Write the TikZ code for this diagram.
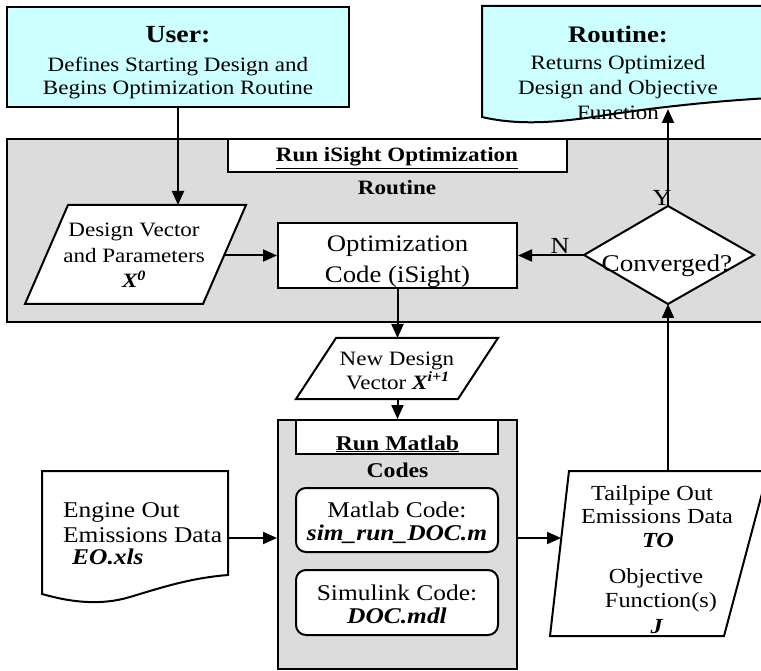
\documentclass[tikz,border=0pt]{standalone}
\usepackage{fontspec}
\setmainfont[FakeStretch=1.13]{Liberation Serif}
\usetikzlibrary{arrows.meta,fit,shapes.geometric}
\definecolor{cyanfill}{HTML}{CCFFFF}
\definecolor{grayfill}{HTML}{DCDCDC}
\newcommand{\fsz}[1]{\fontsize{#1}{#1}\selectfont}
\tikzset{
  shapeline/.style={draw=black, line width=2pt},
  boxfit/.style={shapeline, rectangle, inner sep=0pt},
  flow/.style={draw=black, line width=2pt, -{Triangle[length=14pt,width=12pt]}},
  txt/.style={anchor=base, inner sep=0pt},
}
\begin{document}
\begin{tikzpicture}[x=1pt,y=-1pt]
\useasboundingbox (0,0) rectangle (761,671);
\clip (0,0) rectangle (761,671);

% ---------- iSight gray frame ----------
\node[boxfit, fill=grayfill, fit={(7,139) (790,322)}] (isight) {};
\node[boxfit, fill=white, fit={(228,139) (567,172)}] (isighttitle) {};
\node[txt, font=\bfseries\fsz{20.4}] (t1) at (397,162) {\underline{Run iSight Optimization}};
\node[txt, font=\bfseries\fsz{20.4}] (t2) at (397,195) {Routine};

% ---------- User box ----------
\node[boxfit, fill=cyanfill, fit={(7,7) (349,107)}] (user) {};
\node[txt, font=\bfseries\fsz{24.6}] (u1) at (178,43) {User:};
\node[txt, font=\fsz{20.4}] (u2) at (178,72) {Defines Starting Design and};
\node[txt, font=\fsz{20.4}] (u3) at (178,95) {Begins Optimization Routine};

% ---------- Routine document ----------
\draw[shapeline, fill=cyanfill] (482,6) -- (790,6) -- (790,97)
  .. controls (720,100) and (650,108) .. (600,116)
  .. controls (560,122) and (520,126) .. (482,117) -- cycle;
\coordinate (rtbot) at (668,109);
\node[txt, font=\bfseries\fsz{23.7}] (r1) at (618,43) {Routine:};
\node[txt, font=\fsz{20.4}] (r2) at (618,70) {Returns Optimized};
\node[txt, font=\fsz{20.4}] (r3) at (618,95) {Design and Objective};
\node[txt, font=\fsz{20.4}] (r4) at (618,120) {Function};

% ---------- Design vector parallelogram ----------
\draw[shapeline, fill=white] (68,205) -- (246,205) -- (203,304) -- (25,304) -- cycle;
\coordinate (dvtop) at (178,205);
\coordinate (dvright) at (224.5,255.5);
\node[txt, font=\fsz{20.4}] (d1) at (134,237) {Design Vector};
\node[txt, font=\fsz{20.4}] (d2) at (134,263) {and Parameters};
\node[txt, font=\fsz{20.4}] (d3) at (134,288) {\textbf{\textit{X\textsuperscript{0}}}};

% ---------- Optimization code ----------
\node[boxfit, fill=white, fit={(278,223) (517,288)}] (opt) {};
\node[txt, font=\fsz{23.7}] (o1) at (397.5,252) {Optimization};
\node[txt, font=\fsz{23.7}] (o2) at (397.5,283) {Code (iSight)};

% ---------- Converged diamond ----------
\draw[shapeline, fill=white] (584,255) -- (668,206) -- (754,255) -- (668,304) -- cycle;
\coordinate (convW) at (584,255.5);
\coordinate (convN) at (668,206);
\coordinate (convS) at (668,304);
\node[txt, font=\fsz{24}] (c1) at (667,272) {Converged?};
\node[txt, font=\fsz{23}] (nlab) at (560,254) {N};
\node[txt, font=\fsz{23}] (ylab) at (662,206) {Y};

% ---------- New design vector ----------
\draw[shapeline, fill=white] (336,338) -- (498,338) -- (458,399) -- (296,399) -- cycle;
\coordinate (ndtop) at (397.5,338);
\coordinate (ndbot) at (397.5,399);
\node[txt, font=\fsz{20.4}] (n1) at (397,365) {New Design};
\node[txt, font=\fsz{20.4}] (n2) at (398,389) {Vector \textbf{\textit{X\textsuperscript{i+1}}}};

% ---------- Matlab block ----------
\node[boxfit, fill=grayfill, fit={(278,420) (517,669)}] (matlab) {};
\node[boxfit, fill=white, fit={(296,420) (498,454)}] (mtitle) {};
\node[txt, font=\bfseries\fsz{21}] (m1) at (397.5,450) {\underline{Run Matlab}};
\node[txt, font=\bfseries\fsz{21}] (m2) at (397.5,477) {Codes};
\node[boxfit, fill=white, rounded corners=10pt, fit={(296,488) (498,552)}] (mcode) {};
\node[txt, font=\fsz{22.5}] (mc1) at (397,517) {Matlab Code:};
\node[txt, font=\fsz{22.5}] (mc2) at (397,540) {\textbf{\textit{sim\_run\_DOC.m}}};
\node[boxfit, fill=white, rounded corners=10pt, fit={(296,570) (498,635)}] (scode) {};
\node[txt, font=\fsz{22.5}] (sc1) at (397,600) {Simulink Code:};
\node[txt, font=\fsz{22.5}] (sc2) at (397,623) {\textbf{\textit{DOC.mdl}}};

% ---------- Engine out document ----------
\draw[shapeline, fill=white] (42,471) -- (228,471) -- (228,575)
  .. controls (190,578) and (160,588) .. (130,597)
  .. controls (100,606) and (70,602) .. (42,594) -- cycle;
\coordinate (eoright) at (228,538);
\node[txt, anchor=base west, font=\fsz{22.5}] (e1) at (63,517) {Engine Out};
\node[txt, anchor=base west, font=\fsz{22.5}] (e2) at (63,542) {Emissions Data};
\node[txt, anchor=base west, font=\fsz{22.5}] (e3) at (72,564) {\textbf{\textit{EO.xls}}};

% ---------- Tailpipe parallelogram ----------
\draw[shapeline, fill=white] (569,471) -- (768,471) -- (724,636) -- (550,636) -- cycle;
\coordinate (tpleft) at (561,538);
\coordinate (tptop) at (668,471);
\node[txt, font=\fsz{21.5}] (p1) at (652,500) {Tailpipe Out};
\node[txt, font=\fsz{21.5}] (p2) at (657,523) {Emissions Data};
\node[txt, font=\fsz{21.5}] (p3) at (658,547) {\textbf{\textit{TO}}};
\node[txt, font=\fsz{21.5}] (p4) at (656,583) {Objective};
\node[txt, font=\fsz{21.5}] (p5) at (661,607) {Function(s)};
\node[txt, font=\fsz{21.5}] (p6) at (657,633) {\textbf{\textit{J}}};

% ---------- connectors ----------
\draw[flow] (user.south) -- (dvtop);
\draw[flow] (dvright) -- (opt.west);
\draw[flow] (convW) -- (opt.east);
\draw[flow] (opt.south) -- (ndtop);
\draw[flow] (ndbot) -- (matlab.north);
\draw[flow] (eoright) -- (eoright -| matlab.west);
\draw[flow] (eoright -| matlab.east) -- (tpleft);
\draw[flow] (tptop) -- (convS);
\draw[flow] (convN) -- (rtbot);
\end{tikzpicture}
\end{document}
